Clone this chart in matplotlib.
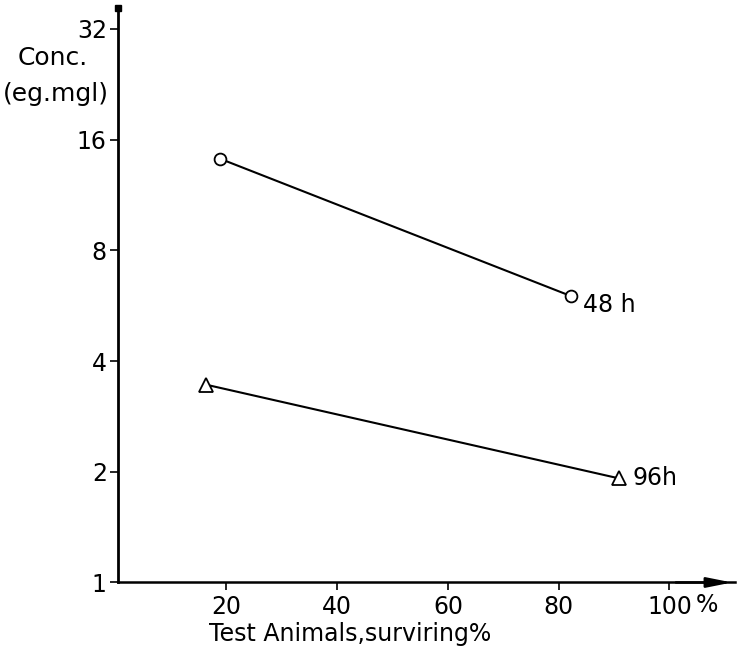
import numpy as np
import matplotlib
matplotlib.use("Agg")
import matplotlib.pyplot as plt

survival_48h = [18.8, 82.3]
conc_48h = [14.2, 6.0]
survival_96h = [16.3, 90.8]
conc_96h = [3.45, 1.92]
series_names = ["48 h", "96h"]

x_ticks = [20, 40, 60, 80, 100]
y_ticks = [1, 2, 4, 8, 16, 32]

plt.rcParams['font.family'] = ['DejaVu Sans']
fs = 17

fig = plt.figure(figsize=(7.37, 6.53), dpi=100)
ax = fig.add_axes([0.160, 0.108, 0.837, 0.880])

ax.set_yscale('log', base=2)
ax.set_xlim(0.4, 111.8)
ax.set_ylim(1, 36.5)

ax.plot(survival_48h, conc_48h, color='black', lw=1.5, marker='o', ms=8.5,
        mfc='white', mec='black', mew=1.3)
ax.plot(survival_96h, conc_96h, color='black', lw=1.5, marker='^', ms=10,
        mfc='white', mec='black', mew=1.3)

ax.annotate(series_names[0], xy=(survival_48h[-1], conc_48h[-1]), xytext=(8, -6),
            textcoords='offset points', fontsize=fs, va='center', ha='left')
ax.annotate(series_names[1], xy=(survival_96h[-1], conc_96h[-1]), xytext=(10, 0),
            textcoords='offset points', fontsize=fs, va='center', ha='left')

ax.set_xticks(x_ticks)
ax.set_xticklabels([str(v) for v in x_ticks])
ax.set_yticks(y_ticks)
ax.set_yticklabels([str(v) for v in y_ticks])
ax.yaxis.set_minor_locator(matplotlib.ticker.NullLocator())
ax.tick_params(axis='both', labelsize=fs, length=6, width=1.2, direction='out')
ax.tick_params(axis='x', pad=3)
ax.tick_params(axis='y', pad=2)

ax.annotate('%', xy=(100, 0), xycoords=('data', 'axes fraction'), xytext=(19, -16.5),
            textcoords='offset points', fontsize=fs, ha='left', va='center')

for side in ['top', 'right']:
    ax.spines[side].set_visible(False)
ax.spines['left'].set_linewidth(2.0)
ax.spines['bottom'].set_linewidth(1.8)

# axis arrows
ax.annotate('', xy=(1.0, 0), xytext=(0.9, 0), xycoords='axes fraction',
            arrowprops=dict(arrowstyle='-|>,head_length=1.5,head_width=0.3',
                            color='black', lw=1.8))
ax.plot([0], [1.0], marker='s', ms=4, color='black', transform=ax.transAxes, clip_on=False)

ax.set_xlabel('Test Animals,surviring%', fontsize=fs)
ax.xaxis.set_label_coords(0.376, -0.09, transform=ax.transAxes)
ax.xaxis.label.set_va('center')

fig.text(0.072, 0.911, 'Conc.', fontsize=fs + 1, ha='center', va='center')
fig.text(0.076, 0.856, '(eg.mgl)', fontsize=fs + 1, ha='center', va='center')

fig.savefig('out.png', dpi=100)
